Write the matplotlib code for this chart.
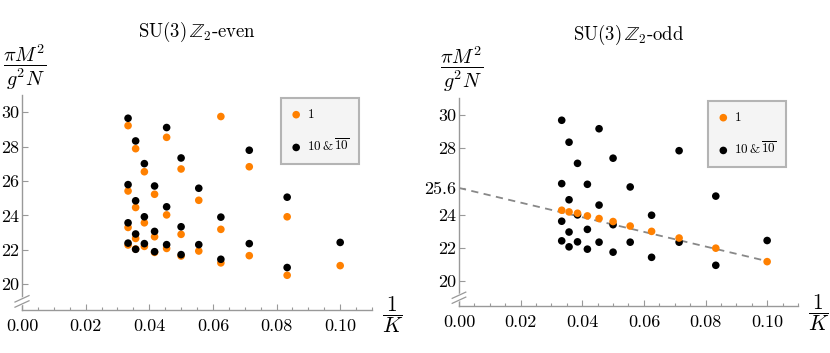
import matplotlib
matplotlib.use('Agg')
import matplotlib.pyplot as plt
from matplotlib.ticker import MultipleLocator, FixedLocator, FormatStrFormatter
import numpy as np

plt.rcParams['font.family'] = 'serif'
plt.rcParams['font.serif'] = ['cmr10']
plt.rcParams['mathtext.fontset'] = 'cm'
plt.rcParams['axes.formatter.use_mathtext'] = True

# 1/K for K = 30, 28, ..., 10
K = [30, 28, 26, 24, 22, 20, 18, 16, 14, 12, 10]

# left panel: Z2-even, (K, value) pairs
even_singlet = {
    30: [29.22, 25.42, 23.30, 22.28],
    28: [27.88, 24.46, 22.66, 22.05],
    26: [26.54, 23.57, 22.20],
    24: [25.23, 22.76, 21.85],
    22: [28.54, 24.03, 22.08],
    20: [26.70, 22.90, 21.64],
    18: [24.88, 21.93],
    16: [29.75, 23.19, 21.24],
    14: [26.83, 21.66],
    12: [23.92, 20.52],
    10: [21.08],
}
even_ten = {
    30: [29.65, 25.79, 23.57, 22.39],
    28: [28.33, 24.85, 22.92, 22.03],
    26: [27.01, 23.92, 22.36],
    24: [25.71, 23.07, 21.89],
    22: [29.11, 24.50, 22.30],
    20: [27.34, 23.34, 21.72],
    18: [25.58, 22.30],
    16: [23.90, 21.45],
    14: [27.79, 22.36],
    12: [25.06, 20.97],
    10: [22.43],
}

# right panel: Z2-odd
odd_singlet = [24.26, 24.16, 24.08, 23.92, 23.76, 23.58, 23.31, 22.99, 22.59, 21.98, 21.17]
odd_ten = {
    30: [29.67, 25.86, 23.60, 22.42],
    28: [28.35, 24.89, 22.95, 22.06],
    26: [27.08, 23.98, 22.36],
    24: [25.82, 23.11, 21.92],
    22: [29.16, 24.57, 22.34],
    20: [27.39, 23.39, 21.74],
    18: [25.66, 22.34],
    16: [23.96, 21.43],
    14: [27.84, 22.34],
    12: [25.11, 20.95],
    10: [22.44],
}
fit_x = [0.0, 0.1]
fit_y = [25.6, 21.2]

orange = '#ff8000'
grey = '#999999'
lab1 = r'$\mathbf{1}$'
lab10 = r'$\mathbf{10}\,$&$\,\overline{\mathbf{10}}$'


def flat(d):
    xs, ys = [], []
    for k in d:
        for v in d[k]:
            xs.append(1.0 / k)
            ys.append(v)
    return xs, ys


fig = plt.figure(figsize=(8.3, 3.53), dpi=100)
ax1 = fig.add_axes([0.0265, 0.1218, 0.4217, 0.609])
ax2 = fig.add_axes([0.553, 0.133, 0.4084, 0.589])


def style(ax, yticks, legx, ylab_y, xlab_y):
    ax.set_xlim(0, 0.11)
    ax.set_ylim(18.5, 31)
    for s in ['top', 'right']:
        ax.spines[s].set_visible(False)
    for s in ['left', 'bottom']:
        ax.spines[s].set_color(grey)
        ax.spines[s].set_linewidth(1.0)
    ax.xaxis.set_major_locator(MultipleLocator(0.02))
    ax.xaxis.set_minor_locator(MultipleLocator(0.005))
    ax.xaxis.set_major_formatter(FormatStrFormatter('%.2f'))
    ax.yaxis.set_major_locator(FixedLocator(yticks))
    ax.set_yticklabels([('%g' % t) for t in yticks])
    ax.tick_params(which='both', direction='in', color=grey, labelsize=13)
    ax.tick_params(which='major', length=4, width=0.8)
    ax.tick_params(which='minor', length=2.5, width=0.8)
    ax.tick_params(axis='x', pad=6)
    ax.tick_params(axis='y', pad=2)
    # axis break
    yb = 0.04
    for dy in (-0.012, 0.012):
        ax.plot([-0.02, 0.02], [yb + dy - 0.015, yb + dy + 0.015], color=grey,
                lw=0.9, transform=ax.transAxes, clip_on=False, zorder=5)
    ax.fill([-0.02, 0.02, 0.02, -0.02],
            [yb - 0.027, yb - 0.003, yb + 0.027, yb + 0.003],
            color='white', transform=ax.transAxes, clip_on=False, zorder=4)
    ax.text(-0.055, ylab_y, r'$\dfrac{\pi M^2}{g^2 N}$', transform=ax.transAxes,
            fontsize=14.5, ha='left', va='center')
    ax.text(1.06, xlab_y, r'$\dfrac{1}{K}$', transform=ax.transAxes,
            fontsize=15.5, ha='center', va='center')
    leg = ax.legend(loc='upper left', bbox_to_anchor=(legx, 0.985), frameon=True,
                    fancybox=False, fontsize=9.5, labelspacing=1.25,
                    handletextpad=0.4, borderpad=0.75, handlelength=0.8,
                    borderaxespad=0)
    leg.get_frame().set_facecolor('#f4f4f4')
    leg.get_frame().set_edgecolor('#b4b4b4')
    leg.get_frame().set_linewidth(1.5)
    leg.get_frame().set_alpha(1)


x, y = flat(even_singlet)
ax1.scatter(x, y, s=30, color=orange, edgecolors='none', label=lab1, zorder=3)
x, y = flat(even_ten)
ax1.scatter(x, y, s=30, color='black', edgecolors='none', label=lab10, zorder=3)
ax1.set_title(r'$\mathrm{SU}(3)\,\mathbb{Z}_2$-even', fontsize=13.5, pad=42)
style(ax1, [20, 22, 24, 26, 28, 30], 0.74, 1.13, -0.02)

ax2.plot(fit_x, fit_y, color='#888888', lw=1.3, ls=(0, (4, 3)), zorder=2)
ax2.scatter([1.0 / k for k in K], odd_singlet, s=30, color=orange, edgecolors='none',
            label=lab1, zorder=4)
x, y = flat(odd_ten)
ax2.scatter(x, y, s=30, color='black', edgecolors='none', label=lab10, zorder=3)
ax2.set_title(r'$\mathrm{SU}(3)\,\mathbb{Z}_2$-odd', fontsize=13.5, pad=42)
style(ax2, [20, 22, 24, 25.6, 28, 30], 0.735, 1.14, -0.03)

fig.savefig('out.png', dpi=100)
